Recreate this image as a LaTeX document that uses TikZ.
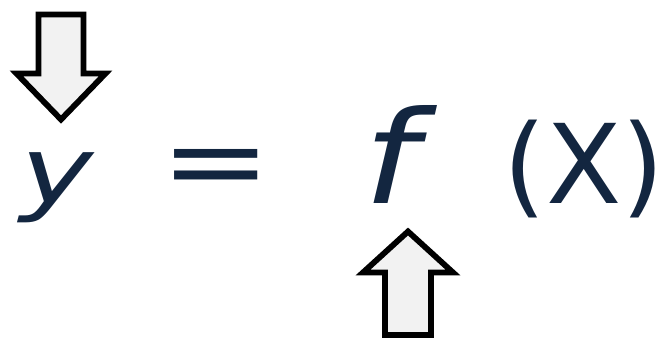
\documentclass[tikz,border=0pt]{standalone}
\usepackage{fontspec}
\setmainfont{DejaVu Sans}
\usepackage{graphicx}
\usepackage{tikz}
\usepackage{xcolor}

\definecolor{eqnavy}{HTML}{132640}
\definecolor{arrowgray}{HTML}{F2F2F2}

\tikzset{
    eqtext/.style={text=eqnavy, inner sep=0pt, anchor=base},
    hollowarrow/.style={draw=black, line width=5.8pt, fill=arrowgray, miter limit=10}
}

\begin{document}
\begin{tikzpicture}[x=1pt, y=-1pt]
    \useasboundingbox (0,0) rectangle (665,338);
    % the equation
    \node [eqtext, font=\fontsize{93}{93}\selectfont\itshape] (yvar) at (57,203) {\scalebox{1.33}[1]{y}};
    \node [eqtext, font=\fontsize{108}{108}\selectfont] (eqsign) at (216,198) {\scalebox{1.23}[1]{=}};
    \node [eqtext, font=\fontsize{129}{129}\selectfont\itshape] (ffun) at (391,203) {\scalebox{1.2}[1]{f}};
    \node [eqtext, font=\fontsize{110}{110}\selectfont] (xarg) at (584,203) {(X)};
    % arrow over y
    \draw [hollowarrow] (38.5,14.5)--(83.5,14.5)--(83.5,73.5)--(105.5,73.5)
        --(61,119.5)--(16.5,73.5)--(38.5,73.5)--cycle;
    % arrow under f
    \draw [hollowarrow] (385,335)--(431,335)--(431,272.5)--(453,272.5)
        --(408,231.5)--(363,272.5)--(385,272.5)--cycle;
\end{tikzpicture}
\end{document}
